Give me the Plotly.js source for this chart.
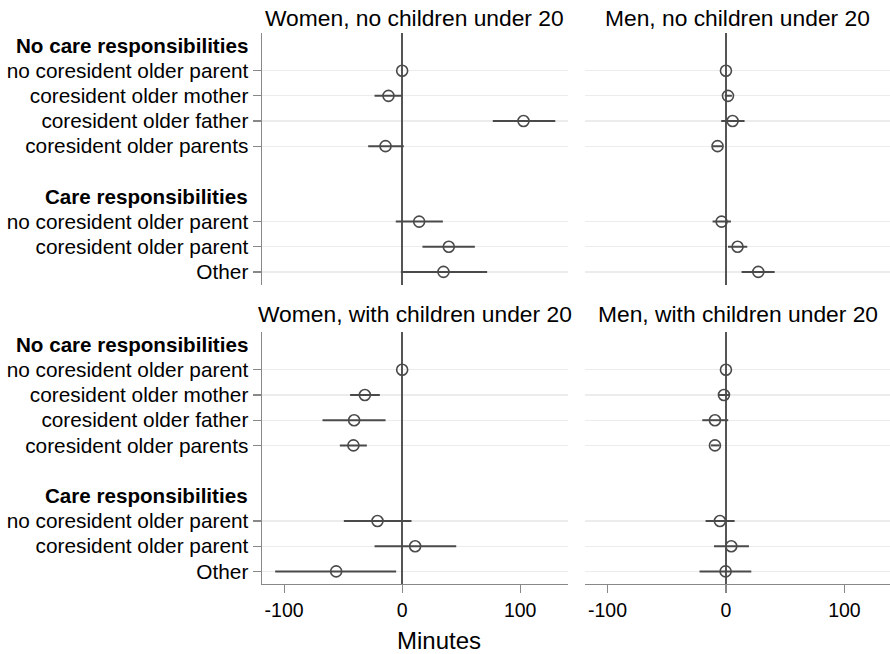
<!DOCTYPE html>
<html>
<head>
<meta charset="utf-8">
<script src="https://cdn.plot.ly/plotly-3.0.1.min.js"></script>
<style>html,body{margin:0;padding:0;background:#fff;}#chart{width:890px;height:654px;}</style>
</head>
<body>
<div id="chart"></div>
<script>
// Row labels (slots 1-4 and 7-9); headers at slots 0 and 6
const headers = ["No care responsibilities", "Care responsibilities"];
const headerSlots = [0, 6];
const rowLabels = ["no coresident older parent", "coresident older mother", "coresident older father",
  "coresident older parents", "no coresident older parent", "coresident older parent", "Other"];
const rowSlots = [1, 2, 3, 4, 7, 8, 9];

const panelTitles = ["Women, no children under 20", "Men, no children under 20",
  "Women, with children under 20", "Men, with children under 20"];

// Estimates and confidence intervals (minutes)
const womenNoKidsEst = [0, -11.6, 102.8, -14.1, 14.4, 39.5, 35.0];
const womenNoKidsLo  = [0, -23.4, 76.8, -28.8, -5.4, 17.2, -1.1];
const womenNoKidsHi  = [0, -0.3, 129.7, 1.4, 34.5, 61.6, 72.0];

const menNoKidsEst = [0, 1.7, 5.6, -7.1, -3.7, 9.8, 27.3];
const menNoKidsLo  = [0, -1.0, -4.0, -11.0, -11.3, 1.7, 13.2];
const menNoKidsHi  = [0, 5.0, 15.7, -3.0, 4.2, 18.0, 41.1];

const womenKidsEst = [0, -31.6, -40.7, -41.3, -20.9, 11.0, -55.9];
const womenKidsLo  = [0, -44.1, -67.5, -52.8, -49.4, -23.4, -107.6];
const womenKidsHi  = [0, -18.9, -14.1, -29.9, 7.9, 45.8, -5.1];

const menKidsEst = [0, -1.7, -9.3, -9.3, -5.1, 4.5, -0.3];
const menKidsLo  = [0, -6.2, -20.0, -12.7, -17.2, -10.1, -22.3];
const menKidsHi  = [0, 3.0, 1.9, -5.4, 7.3, 19.4, 21.4];

const xTicks = [-100, 0, 100];

const W = 890, H = 654;
const FONT = '"Liberation Sans", Arial, Helvetica, sans-serif';
const dark = '#4a4a4a';

function panelTrace(est, lo, hi, ax) {
  return {
    type: 'scatter', mode: 'markers',
    x: est, y: rowSlots,
    xaxis: 'x' + ax, yaxis: 'y' + ax,
    marker: {symbol: 'circle-open', size: 11, color: dark, line: {width: 1.6, color: dark}},
    error_x: {type: 'data', symmetric: false,
      array: hi.map((h, i) => h - est[i]),
      arrayminus: lo.map((l, i) => est[i] - l),
      color: dark, thickness: 2, width: 0},
    showlegend: false, hoverinfo: 'x+y'
  };
}

const data = [
  panelTrace(womenNoKidsEst, womenNoKidsLo, womenNoKidsHi, ''),
  panelTrace(menNoKidsEst, menNoKidsLo, menNoKidsHi, '2'),
  panelTrace(womenKidsEst, womenKidsLo, womenKidsHi, '3'),
  panelTrace(menKidsEst, menKidsLo, menKidsHi, '4')
];

const leftDom = [261.7 / W, 568 / W];
const rightDom = [585 / W, 1];
const topDom = [1 - 284.5 / H, 1 - 33 / H];
const botDom = [1 - 584 / H, 1 - 332 / H];

function xAx(dom, anchor, range, bottom) {
  return {
    domain: dom, anchor: anchor, range: range,
    showgrid: false,
    zeroline: true, zerolinecolor: '#555', zerolinewidth: 2,
    showline: bottom, linecolor: '#888', linewidth: 1.2,
    ticks: bottom ? 'outside' : '', ticklen: 8, tickcolor: '#888', tickwidth: 1.2,
    showticklabels: bottom, tickvals: xTicks, ticktext: xTicks.map(String),
    tickfont: {family: FONT, size: 19.5, color: '#000'}
  };
}
function yAx(dom, anchor, left) {
  return {
    domain: dom, anchor: anchor, range: [9.5, -0.5],
    tickvals: rowSlots, ticktext: rowLabels,
    showgrid: true, gridcolor: '#ececec', gridwidth: 1.2,
    zeroline: false,
    showline: left, linecolor: '#888', linewidth: 1.2,
    ticks: left ? 'outside' : '', ticklen: 8, tickcolor: '#888', tickwidth: 1.2,
    showticklabels: left,
    tickfont: {family: FONT, size: 20.8, color: '#000'}
  };
}

const annotations = [];
const titlePos = [
  [(leftDom[0] + leftDom[1]) / 2, 1 - 18 / H],
  [(rightDom[0] + rightDom[1]) / 2, 1 - 18 / H],
  [(leftDom[0] + leftDom[1]) / 2, 1 - 314 / H],
  [(rightDom[0] + rightDom[1]) / 2, 1 - 314 / H]
];
panelTitles.forEach((t, i) => annotations.push({
  text: t, xref: 'paper', yref: 'paper', x: titlePos[i][0], y: titlePos[i][1],
  xanchor: 'center', yanchor: 'middle', showarrow: false,
  font: {family: FONT, size: 22.8, color: '#000'}
}));
['y', 'y3'].forEach(yr => headers.forEach((h, i) => annotations.push({
  text: '<b>' + h + '</b>', xref: 'paper', yref: yr, x: 250 / W, y: headerSlots[i],
  xanchor: 'right', yanchor: 'middle', showarrow: false,
  font: {family: FONT, size: 20.6, color: '#000'}
})));
annotations.push({
  text: 'Minutes', xref: 'paper', yref: 'paper', x: 438.5 / W, y: 1 - 640 / H,
  xanchor: 'center', yanchor: 'middle', showarrow: false,
  font: {family: FONT, size: 24, color: '#000'}
});

const layout = {
  width: W, height: H,
  margin: {l: 0, r: 0, t: 0, b: 0},
  paper_bgcolor: '#fff', plot_bgcolor: '#fff',
  font: {family: FONT, color: '#000'},
  showlegend: false,
  xaxis: xAx(leftDom, 'y', [-119, 140.5], false),
  yaxis: yAx(topDom, 'x', true),
  xaxis2: xAx(rightDom, 'y2', [-119, 138.5], false),
  yaxis2: yAx(topDom, 'x2', false),
  xaxis3: xAx(leftDom, 'y3', [-119, 140.5], true),
  yaxis3: yAx(botDom, 'x3', true),
  xaxis4: xAx(rightDom, 'y4', [-119, 138.5], true),
  yaxis4: yAx(botDom, 'x4', false),
  annotations: annotations
};

Plotly.newPlot('chart', data, layout, {displayModeBar: false, staticPlot: true});
</script>
</body>
</html>
